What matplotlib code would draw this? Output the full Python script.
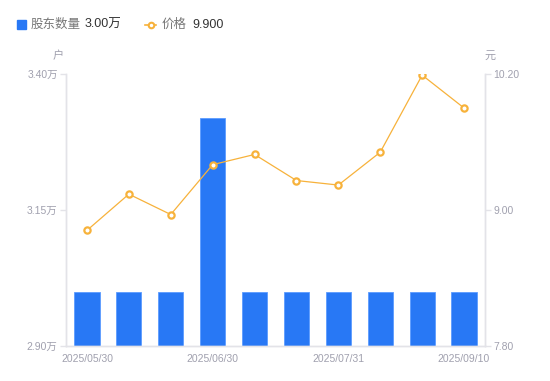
import matplotlib.pyplot as plt
from matplotlib.patches import Rectangle
from matplotlib.lines import Line2D

plt.rcParams['font.family'] = ['Liberation Sans', 'Noto Sans CJK SC', 'DejaVu Sans']
cjk = ['Noto Sans CJK SC', 'DejaVu Sans']

dates = ['2025/05/30', '2025/06/10', '2025/06/20', '2025/06/30', '2025/07/10',
         '2025/07/20', '2025/07/31', '2025/08/20', '2025/08/31', '2025/09/10']
holders = [3.00, 3.00, 3.00, 3.32, 3.00, 3.00, 3.00, 3.00, 3.00, 3.00]  # 万户
price = [8.82, 9.14, 8.96, 9.40, 9.49, 9.26, 9.22, 9.51, 10.19, 9.90]
shown_ticks = [0, 3, 6, 9]
left_ticks = [2.90, 3.15, 3.40]
right_ticks = [7.80, 9.00, 10.20]

blue = '#2878F5'
orange = '#F7B23B'
grey = '#A0A0AE'
axis_c = '#E3E3E8'

fig = plt.figure(figsize=(5.5, 3.81), dpi=100)
W, H = 550, 381
ax = fig.add_axes([66 / W, 35 / H, 419 / W, 272 / H])
ax2 = ax.twinx()

x = list(range(len(dates)))
ax.bar(x, holders, width=0.6, color=blue, edgecolor='#5C9BFF', linewidth=0.6, zorder=2)
ax.set_ylim(2.90, 3.40)
ax.set_xlim(-0.5, len(dates) - 0.5)
ax.set_yticks(left_ticks)
ax.set_yticklabels([f'{v:.2f}万' for v in left_ticks])
ax.set_xticks(shown_ticks)
ax.set_xticklabels([dates[i] for i in shown_ticks])

ax2.plot(x, price, color=orange, linewidth=0.9, marker='o', markersize=4.5,
         markerfacecolor='white', markeredgecolor=orange, markeredgewidth=1.6, zorder=3)
ax2.set_ylim(7.80, 10.20)
ax2.set_yticks(right_ticks)
ax2.set_yticklabels([f'{v:.2f}' for v in right_ticks])

for a in (ax, ax2):
    for s in a.spines.values():
        s.set_color(axis_c)
        s.set_linewidth(1)
    a.spines['top'].set_visible(False)
    a.tick_params(colors=grey, labelsize=7.5, length=4, width=1)
    a.tick_params(axis='y', color=axis_c, pad=2)
ax.tick_params(axis='x', length=0, pad=6)
ax2.set_zorder(ax.get_zorder() + 1)
ax2.patch.set_visible(False)

# unit labels
fig.text(58 / W, 1 - 56 / H, '户', color=grey, fontsize=8, ha='center', va='center', family=cjk)
fig.text(490 / W, 1 - 56 / H, '元', color=grey, fontsize=8, ha='center', va='center', family=cjk)

# legend
ly = 1 - 24.5 / H
fig.patches.append(Rectangle((16.5 / W, 1 - 28.7 / H), 9.5 / W, 8.5 / H,
                             transform=fig.transFigure, color=blue, figure=fig))
fig.text(31 / W, ly, '股东数量', color='#777777', fontsize=9, va='center', family=cjk)
fig.text(85 / W, ly, f'{holders[-1]:.2f}万', color='#333333', fontsize=9, va='center')
fig.lines.append(Line2D([145 / W, 156 / W], [ly, ly], transform=fig.transFigure,
                        color=orange, linewidth=1.2, figure=fig))
fig.lines.append(Line2D([150.5 / W], [ly], transform=fig.transFigure, color=orange,
                        marker='o', markersize=4, markerfacecolor='white',
                        markeredgewidth=1.5, figure=fig))
fig.text(162 / W, ly, '价格', color='#777777', fontsize=9, va='center', family=cjk)
fig.text(192 / W, ly, f'{price[-1]:.3f}', color='#333333', fontsize=9, va='center')

fig.savefig('out.png', dpi=100)
